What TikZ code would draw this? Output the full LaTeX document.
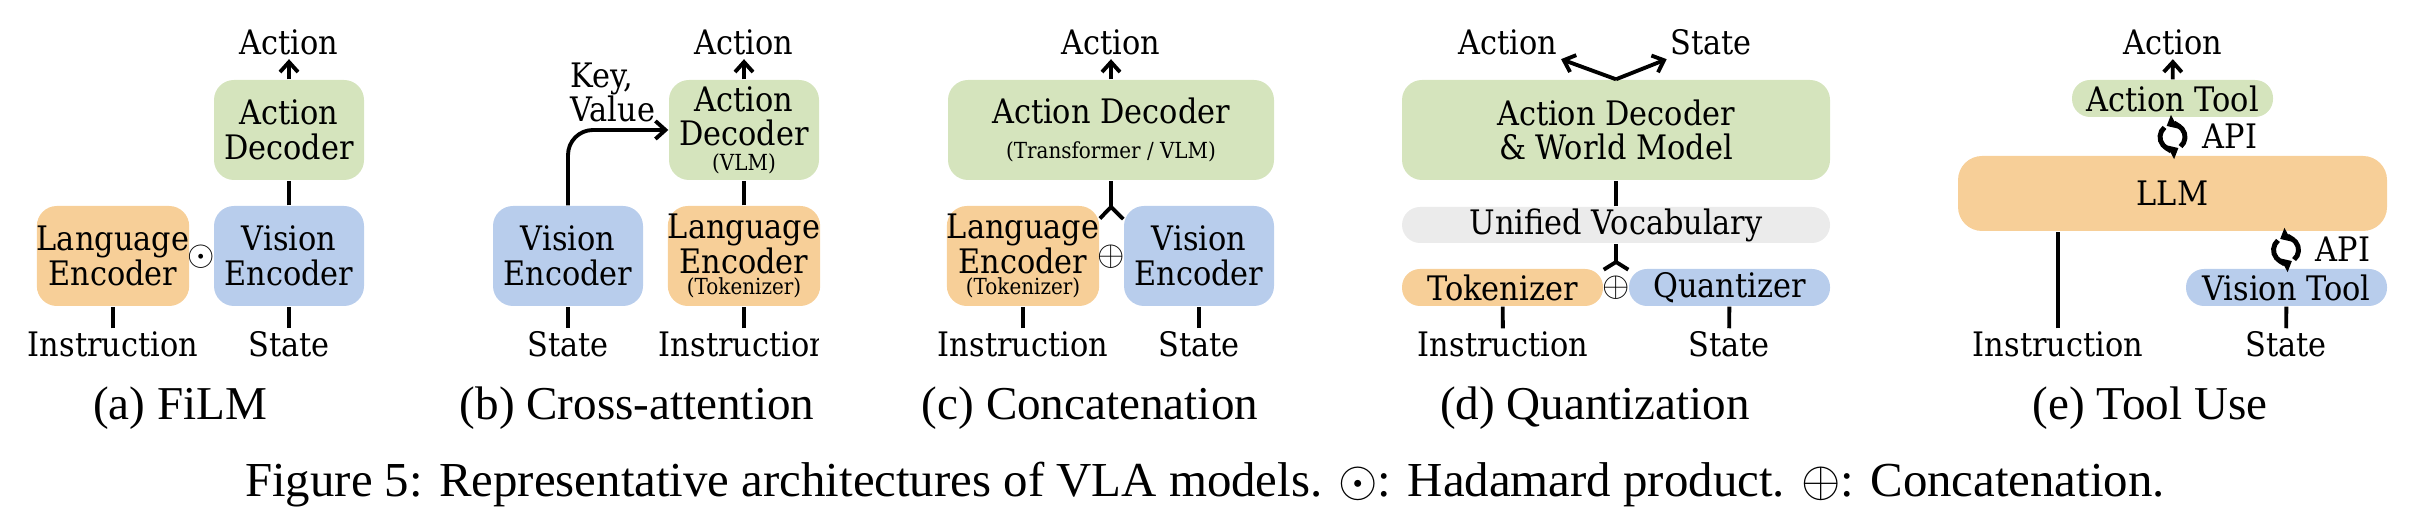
\documentclass[tikz,border=0pt]{standalone}
\usepackage{fontspec}
\setmainfont{Liberation Serif}
\newfontfamily\djv[FakeStretch=0.9]{DejaVu Serif}
\usetikzlibrary{arrows.meta}

\definecolor{decgreen}{RGB}{213,228,189}
\definecolor{encorange}{RGB}{247,207,152}
\definecolor{encblue}{RGB}{184,205,236}
\definecolor{vocgrey}{RGB}{235,235,235}

\newcommand{\boxtext}{\djv\fontsize{9.6}{9.8}\selectfont}
\newcommand{\tinytext}{\djv\fontsize{6.3}{7}\selectfont}
\newcommand{\captext}{\fontsize{13.4}{15}\selectfont}
\newcommand{\figtext}{\fontsize{13.9}{15}\selectfont}

% refresh icon drawn next to each API label
\newcommand{\syncicon}[1]{%
  \draw[line width=1.4pt, -{Triangle[length=0.9mm,width=1.5mm]}] (#1) ++(-50:1.25mm) arc[start angle=-50, end angle=118, radius=1.25mm];
  \draw[line width=1.4pt, -{Triangle[length=0.9mm,width=1.5mm]}] (#1) ++(130:1.25mm) arc[start angle=130, end angle=298, radius=1.25mm];
}

\begin{document}
\begin{tikzpicture}[x=0.1mm, y=-0.1mm,
    box/.style={rounded corners=2mm, inner sep=0pt, align=center, font=\boxtext,
      minimum width=15mm, minimum height=10mm},
    pill/.style={box, rounded corners=1.8mm, minimum height=3.7mm},
    lbl/.style={font=\boxtext, inner sep=0.3mm},
    sym/.style={font=\boxtext, inner sep=0pt},
    subcap/.style={font=\captext, anchor=base, inner sep=0pt},
    link/.style={line width=1.1pt},
    arr/.style={link, -{Straight Barb[length=1mm,width=1.8mm]}}]
    \useasboundingbox (0,0) rectangle (2418,526);

    % (a) FiLM
    \node[lbl, anchor=base] (actA) at (289,55) {Action};
    \node[box, fill=decgreen] (decA) at (289,130) {Action\\Decoder};
    \node[box, fill=encblue] (visA) at (289,256) {Vision\\Encoder};
    \node[box, fill=encorange] (lanA) at (113,256) {Language\\Encoder};
    \node[sym] (odA) at (201,257) {$\odot$};
    \node[lbl, anchor=base] (insA) at (113,357) {Instruction};
    \node[lbl, anchor=base] (staA) at (289,357) {State};
    \draw[arr] (decA) -- (actA);
    \draw[link] (visA) -- (decA);
    \draw[link] (insA) -- (lanA);
    \draw[link] (staA) -- (visA);
    \node[subcap] (capA) at (180,420) {(a) FiLM};

    % (b) Cross-attention
    \node[lbl, anchor=base] (actB) at (744,55) {Action};
    \node[box, fill=decgreen] (decB) at (744,130) {Action\\Decoder\\[-1mm]{\tinytext (VLM)}};
    \node[box, fill=encorange] (lanB) at (744,256) {Language\\Encoder\\[-1.3mm]{\tinytext (Tokenizer)}};
    \node[box, fill=encblue] (visB) at (568,256) {Vision\\Encoder};
    \node[lbl, anchor=south west, align=left, inner sep=0pt] (kvB) at (570,123) {Key,\\Value};
    \node[lbl, anchor=base] (staB) at (568,357) {State};
    \begin{scope}
      \clip (600,300) rectangle (818,380);
      \node[lbl, anchor=base] (insB) at (744,357) {Instruction};
    \end{scope}
    \draw[arr] (decB) -- (actB);
    \draw[arr, rounded corners=2.5mm] (visB) |- (decB);
    \draw[link] (lanB) -- (decB);
    \draw[link] (insB) -- (lanB);
    \draw[link] (staB) -- (visB);
    \node[subcap] (capB) at (637,420) {(b) Cross-attention};

    % (c) Concatenation
    \node[lbl, anchor=base] (actC) at (1111,55) {Action};
    \node[box, fill=decgreen, minimum width=32.6mm] (decC) at (1111,130) {Action Decoder\\{\tinytext (Transformer / VLM)}};
    \node[box, fill=encorange] (lanC) at (1023,256) {Language\\Encoder\\[-1.3mm]{\tinytext (Tokenizer)}};
    \node[box, fill=encblue] (visC) at (1199,256) {Vision\\Encoder};
    \node[sym] (opC) at (1111,257) {$\oplus$};
    \coordinate (jC) at (1111,207);
    \node[lbl, anchor=base] (insC) at (1023,357) {Instruction};
    \node[lbl, anchor=base] (staC) at (1199,357) {State};
    \draw[arr] (decC) -- (actC);
    \draw[link] (jC) -- (decC);
    \draw[link] (lanC.26) -- (jC) -- (visC.154);
    \draw[link] (insC) -- (lanC);
    \draw[link] (staC) -- (visC);
    \node[subcap] (capC) at (1090,420) {(c) Concatenation};

    % (d) Quantization
    \node[lbl, anchor=base] (actD) at (1508,55) {Action};
    \node[lbl, anchor=base] (outD) at (1711,55) {State};
    \node[box, fill=decgreen, minimum width=42.8mm] (decD) at (1616,130) {Action Decoder\\\& World Model};
    \node[pill, fill=vocgrey, minimum width=42.8mm, minimum height=3.6mm] (vocD) at (1616,225) {Unified Vocabulary};
    \node[pill, fill=encorange, minimum width=20.1mm] (tokD) at (1502.5,287.5) {Tokenizer};
    \node[pill, fill=encblue, minimum width=20.1mm] (quaD) at (1729.5,287.5) {Quantizer};
    \node[sym] (opD) at (1616,288) {$\oplus$};
    \coordinate (jD) at (1616,262);
    \node[lbl, anchor=base] (insD) at (1503,357) {Instruction};
    \node[lbl, anchor=base] (staD) at (1729,357) {State};
    \draw[arr] (decD.north) -- (actD.south east);
    \draw[arr] (decD.north) -- (outD.south west);
    \draw[link] (vocD) -- (decD);
    \draw[link] (jD) -- (vocD);
    \draw[link] (tokD.10) -- (jD) -- (quaD.170);
    \draw[link] (insD) -- (tokD);
    \draw[link] (staD) -- (quaD);
    \node[subcap] (capD) at (1595,420) {(d) Quantization};

    % (e) Tool Use
    \node[lbl, anchor=base] (actE) at (2173,55) {Action};
    \node[pill, fill=decgreen, minimum width=20.1mm] (toolA) at (2172.5,98.5) {Action Tool};
    \node[box, fill=encorange, minimum width=42.9mm, minimum height=7.5mm, rounded corners=2.4mm] (llm) at (2172.5,193.5) {LLM};
    \node[pill, fill=encblue, minimum width=20.1mm] (toolV) at (2286.5,287.5) {Vision Tool};
    \node[lbl, anchor=base west] (apiA) at (2199,149) {API};
    \node[lbl, anchor=base west] (apiV) at (2312,262) {API};
    \syncicon{2172.5,137}
    \syncicon{2286,250}
    \node[lbl, anchor=base] (insE) at (2058,357) {Instruction};
    \node[lbl, anchor=base] (staE) at (2286,357) {State};
    \draw[arr] (toolA) -- (actE);
    \draw[link] (insE) -- (insE |- llm.south);
    \draw[link] (staE) -- (toolV);
    \node[subcap] (capE) at (2150,420) {(e) Tool Use};

    % figure caption
    \node[subcap, font=\figtext] (fig) at (1205,497) {Figure 5: Representative architectures of VLA models. $\odot$: Hadamard product. $\oplus$: Concatenation.};
\end{tikzpicture}
\end{document}
